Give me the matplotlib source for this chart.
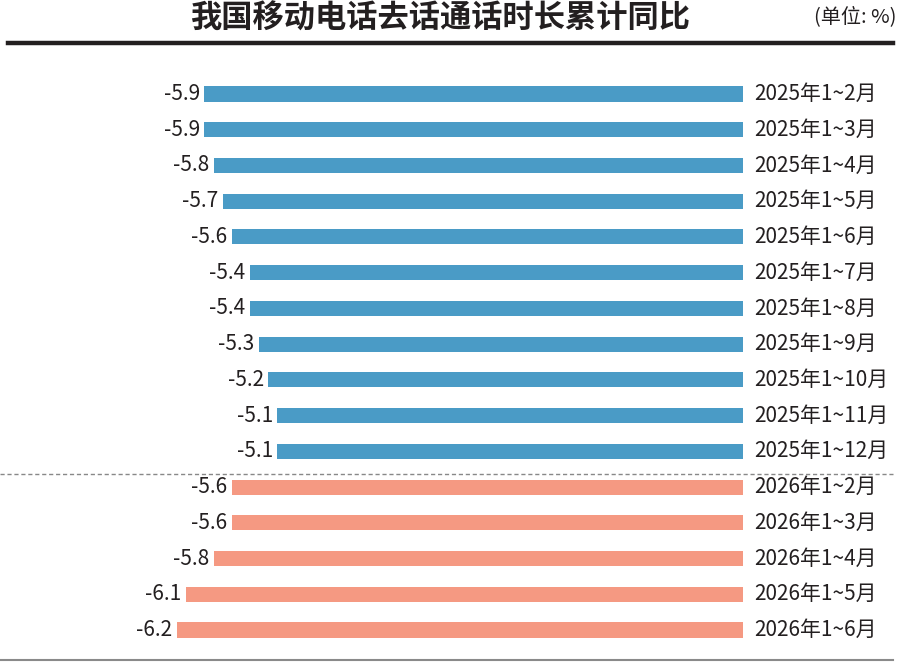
import matplotlib.pyplot as plt
from matplotlib.lines import Line2D

plt.rcParams['font.family'] = ['Noto Sans CJK SC', 'DejaVu Sans']

periods = ['2025年1~2月', '2025年1~3月', '2025年1~4月', '2025年1~5月', '2025年1~6月',
           '2025年1~7月', '2025年1~8月', '2025年1~9月', '2025年1~10月', '2025年1~11月',
           '2025年1~12月', '2026年1~2月', '2026年1~3月', '2026年1~4月', '2026年1~5月',
           '2026年1~6月']
values = [-5.9, -5.9, -5.8, -5.7, -5.6, -5.4, -5.4, -5.3, -5.2, -5.1, -5.1,
          -5.6, -5.6, -5.8, -6.1, -6.2]
years = [p[:4] for p in periods]

colors = {'2025': '#4A9BC6', '2026': '#F59982'}

W, H = 911, 670
fig = plt.figure(figsize=(W / 100, H / 100), dpi=100)

# axes: x from -6.2 (177px) to 0 (743px), rows from 94px to 630px
pitch = (630 - 94) / 15
ax_left, ax_right = 177, 743
ax_top, ax_bot = 94 - pitch / 2, 630 + pitch / 2
ax = fig.add_axes([ax_left / W, 1 - ax_bot / H, (ax_right - ax_left) / W, (ax_bot - ax_top) / H])
ax.set_xlim(-6.2, 0)
ax.set_ylim(len(values) - 0.5, -0.5)
ax.axis('off')

for i, (v, p, yr) in enumerate(zip(values, periods, years)):
    ax.barh(i, v, height=0.42, color=colors[yr], edgecolor='none')
    ax.text(v - 0.05, i, f'{v:.1f}', ha='right', va='center', fontsize=15, color='#231f20')
    ax.text(0.12, i, p, ha='left', va='center', fontsize=15, color='#231f20', clip_on=False)

# dashed separator between years
sep_y = 1 - 474 / H
fig.add_artist(Line2D([0, 893 / W], [sep_y, sep_y], color='#888888', lw=1, ls=(0, (3, 2))))

# title and rules
fig.text(440 / W, 1 - 19 / H, '我国移动电话去话通话时长累计同比', ha='center', va='center',
         fontsize=22.5, fontweight='bold', color='#231f20')
fig.text(896 / W, 1 - 17 / H, '(单位: %)', ha='right', va='center', fontsize=14.5, color='#231f20')
fig.add_artist(Line2D([8 / W, 893 / W], [1 - 43 / H, 1 - 43 / H], color='#231f20', lw=3.2))
fig.add_artist(Line2D([0, 893 / W], [1 - 660 / H, 1 - 660 / H], color='#8a8a8a', lw=1.5))

fig.savefig('out.png', dpi=100)
